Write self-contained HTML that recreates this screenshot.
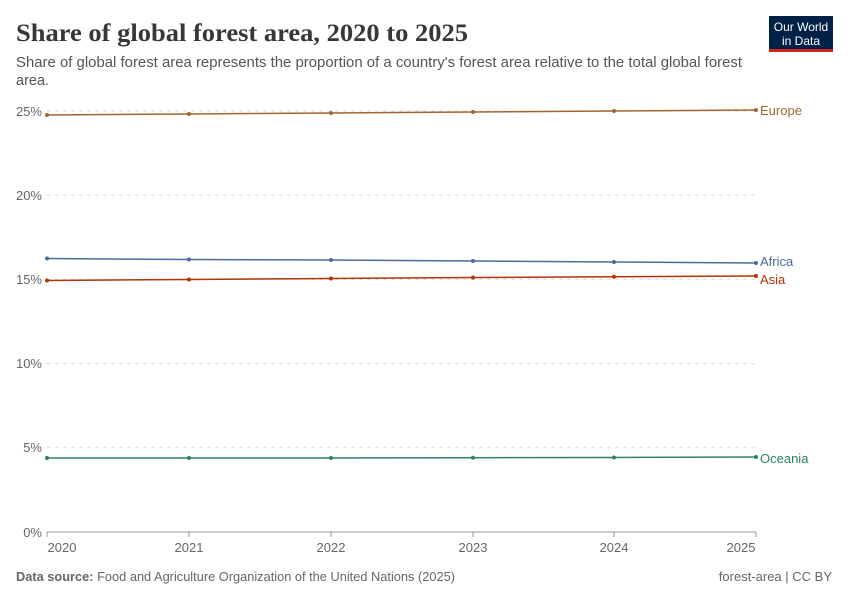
<!DOCTYPE html>
<html><head><meta charset="utf-8"><style>
body{margin:0;background:#fff;width:850px;height:600px;overflow:hidden;font-family:"Liberation Sans",sans-serif;}
</style></head><body>
<svg width="850" height="600" xmlns="http://www.w3.org/2000/svg">
<text x="16" y="41" font-family="Liberation Serif,serif" font-size="25" font-weight="bold" fill="#373737" textLength="452" lengthAdjust="spacingAndGlyphs">Share of global forest area, 2020 to 2025</text>
<text x="16" y="67" font-size="14.5" fill="#555" textLength="726" lengthAdjust="spacingAndGlyphs">Share of global forest area represents the proportion of a country's forest area relative to the total global forest</text>
<text x="16" y="85" font-size="14.5" fill="#555">area.</text>
<rect x="769" y="16" width="64" height="34" fill="#002147"/>
<rect x="769" y="49" width="64" height="3" fill="#ce261e"/>
<text x="801" y="31" font-size="12" fill="#fff" text-anchor="middle">Our World</text>
<text x="801" y="45" font-size="12" fill="#fff" text-anchor="middle">in Data</text>
<g stroke="#ddd" stroke-dasharray="4,4">
<line x1="47" x2="756" y1="111" y2="111"/>
<line x1="47" x2="756" y1="195.2" y2="195.2"/>
<line x1="47" x2="756" y1="279.4" y2="279.4"/>
<line x1="47" x2="756" y1="363.6" y2="363.6"/>
<line x1="47" x2="756" y1="447.8" y2="447.8"/>
</g>
<line x1="47" x2="756" y1="532" y2="532" stroke="#999"/>
<g font-size="13" fill="#666" text-anchor="end">
<text x="42" y="116">25%</text><text x="42" y="200">20%</text><text x="42" y="284">15%</text>
<text x="42" y="368">10%</text><text x="42" y="452">5%</text><text x="42" y="537">0%</text>
</g>
<g font-size="13" fill="#666" text-anchor="middle">
<text x="62" y="552">2020</text><text x="189" y="552">2021</text><text x="331" y="552">2022</text>
<text x="473" y="552">2023</text><text x="614" y="552">2024</text><text x="741" y="552">2025</text>
</g>
<g stroke="#999"><line x1="47" x2="47" y1="532" y2="537"/><line x1="189" x2="189" y1="532" y2="537"/><line x1="331" x2="331" y1="532" y2="537"/><line x1="473" x2="473" y1="532" y2="537"/><line x1="614" x2="614" y1="532" y2="537"/><line x1="756" x2="756" y1="532" y2="537"/></g>
<g fill="none" stroke-width="1.5">
<polyline stroke="#a2662c" points="47,115 189,114 331,113 473,112 614,111 756,110"/>
<polyline stroke="#4c6a9c" points="47,258.5 189,259.5 331,260 473,261 614,262 756,263"/>
<polyline stroke="#b13507" points="47,280.5 189,279.5 331,278.5 473,277.5 614,276.8 756,276"/>
<polyline stroke="#2c8465" points="47,458 189,458 331,458 473,457.7 614,457.5 756,457"/>
</g>
<g fill="#a2662c"><circle cx="47" cy="115" r="2"/><circle cx="189" cy="114" r="2"/><circle cx="331" cy="113" r="2"/><circle cx="473" cy="112" r="2"/><circle cx="614" cy="111" r="2"/><circle cx="756" cy="110" r="2"/></g>
<g fill="#4c6a9c"><circle cx="47" cy="258.5" r="2"/><circle cx="189" cy="259.5" r="2"/><circle cx="331" cy="260" r="2"/><circle cx="473" cy="261" r="2"/><circle cx="614" cy="262" r="2"/><circle cx="756" cy="263" r="2"/></g>
<g fill="#b13507"><circle cx="47" cy="280.5" r="2"/><circle cx="189" cy="279.5" r="2"/><circle cx="331" cy="278.5" r="2"/><circle cx="473" cy="277.5" r="2"/><circle cx="614" cy="276.8" r="2"/><circle cx="756" cy="276" r="2"/></g>
<g fill="#2c8465"><circle cx="47" cy="458" r="2"/><circle cx="189" cy="458" r="2"/><circle cx="331" cy="458" r="2"/><circle cx="473" cy="457.7" r="2"/><circle cx="614" cy="457.5" r="2"/><circle cx="756" cy="457" r="2"/></g>
<g font-size="13">
<text x="760" y="115" fill="#a2662c">Europe</text>
<text x="760" y="266" fill="#4c6a9c">Africa</text>
<text x="760" y="284" fill="#b13507">Asia</text>
<text x="760" y="463" fill="#2c8465">Oceania</text>
</g>
<text x="16" y="581" font-size="13" fill="#666" textLength="439" lengthAdjust="spacingAndGlyphs"><tspan font-weight="bold">Data source:</tspan> Food and Agriculture Organization of the United Nations (2025)</text>
<text x="832" y="581" font-size="13" fill="#666" text-anchor="end">forest-area | CC BY</text>
</svg>
</body></html>
